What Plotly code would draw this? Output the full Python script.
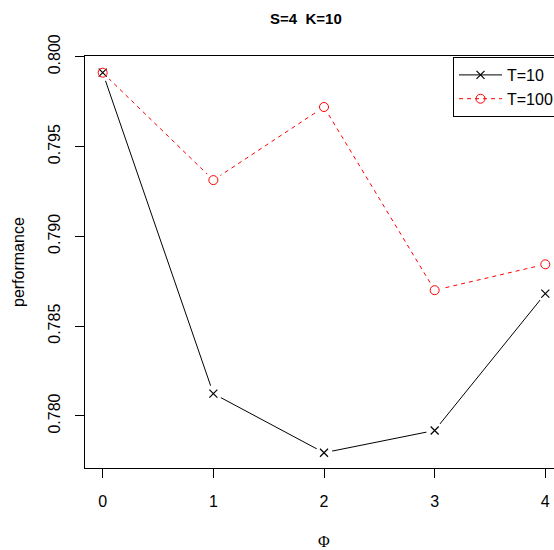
import plotly.graph_objects as go

phi = [0, 1, 2, 3, 4]
perf_t10 = [0.79911, 0.78124, 0.77795, 0.77919, 0.78681]
perf_t100 = [0.79911, 0.79313, 0.79720, 0.78700, 0.78844]
series_names = ["T=10", "T=100"]
x_tick_vals = [0, 1, 2, 3, 4]
x_tick_text = ["0", "1", "2", "3", "4"]
y_tick_vals = [0.780, 0.785, 0.790, 0.795, 0.800]
y_tick_text = ["0.780", "0.785", "0.790", "0.795", "0.800"]

FONT = "Liberation Sans, Arial, Helvetica, sans-serif"
SERIF = "Liberation Serif, DejaVu Serif, serif"
W, H = 554, 550
ML, MR, MT, MB = 85, 0, 56, 82
PW, PH = W - ML - MR, H - MT - MB

fig = go.Figure()

# legend traces (line + marker)
fig.add_trace(go.Scatter(x=phi, y=perf_t10, mode="lines+markers", name=series_names[0],
                         line=dict(color="black", width=1),
                         marker=dict(symbol="x-thin-open", size=8, color="black",
                                     line=dict(color="black", width=1.2))))
fig.add_trace(go.Scatter(x=phi, y=perf_t100, mode="lines+markers", name=series_names[1],
                         line=dict(color="#FF0000", width=1, dash="4px,4px"),
                         marker=dict(symbol="circle-open", size=9, color="#FF0000",
                                     line=dict(color="#FF0000", width=1))))
# white gaps around points (R type="b")
for ys in (perf_t10, perf_t100):
    fig.add_trace(go.Scatter(x=phi, y=ys, mode="markers", showlegend=False, hoverinfo="skip",
                             marker=dict(symbol="circle", size=17, color="white",
                                         line=dict(width=0))))
# symbols on top
fig.add_trace(go.Scatter(x=phi, y=perf_t10, mode="markers", showlegend=False,
                         marker=dict(symbol="x-thin-open", size=8, color="black",
                                     line=dict(color="black", width=1.2))))
fig.add_trace(go.Scatter(x=phi, y=perf_t100, mode="markers", showlegend=False,
                         marker=dict(symbol="circle-open", size=9, color="#FF0000",
                                     line=dict(color="#FF0000", width=1))))

fig.update_layout(
    width=W, height=H,
    margin=dict(l=ML, r=MR, t=MT, b=MB, pad=0, autoexpand=False),
    paper_bgcolor="white", plot_bgcolor="white",
    font=dict(family=FONT, size=16, color="black"),
    showlegend=True,
    legend=dict(xref="paper", yref="paper", x=(453 - ML) / PW, y=1 - 1 / PH,
                xanchor="left", yanchor="top", bordercolor="black", borderwidth=1,
                bgcolor="white", font=dict(family=FONT, size=16, color="black"),
                itemwidth=43, tracegroupgap=0),
    xaxis=dict(range=[-0.16, 4.0785], tickvals=x_tick_vals, ticktext=x_tick_text,
               showline=True, mirror=True, linecolor="black", linewidth=1,
               ticks="outside", ticklen=9, tickcolor="black", tickwidth=1,
               showgrid=False, zeroline=False, ticklabelstandoff=10, automargin=False,
               tickfont=dict(family=FONT, size=16, color="black")),
    yaxis=dict(range=[0.77710, 0.80004], tickvals=y_tick_vals, ticktext=y_tick_text,
               showline=True, mirror=False, linecolor="black", linewidth=1,
               ticks="outside", ticklen=9, tickcolor="black", tickwidth=1,
               showgrid=False, zeroline=False, tickangle=-90, ticklabelstandoff=9,
               automargin=False,
               tickfont=dict(family=FONT, size=16, color="black")),
    annotations=[
        dict(text="<b>S=4\u00a0\u00a0K=10</b>", xref="paper", yref="paper",
             x=(306 - ML) / PW, y=1 + (MT - 18) / PH,
             xanchor="center", yanchor="middle", showarrow=False,
             font=dict(family=FONT, size=15, color="black")),
        dict(text="performance", xref="paper", yref="paper",
             x=-(ML - 18) / PW, y=0.5, textangle=-90,
             xanchor="center", yanchor="middle", showarrow=False,
             font=dict(family=FONT, size=16, color="black")),
        dict(text="\u03a6", xref="paper", yref="paper",
             x=(324 - ML) / PW, y=-(541 - (H - MB)) / PH,
             xanchor="center", yanchor="middle", showarrow=False,
             font=dict(family=SERIF, size=16, color="black")),
    ],
)

fig.write_html("out.html", config={"displayModeBar": False},
               post_script="document.body.style.margin='0';document.body.style.overflow='hidden';")
